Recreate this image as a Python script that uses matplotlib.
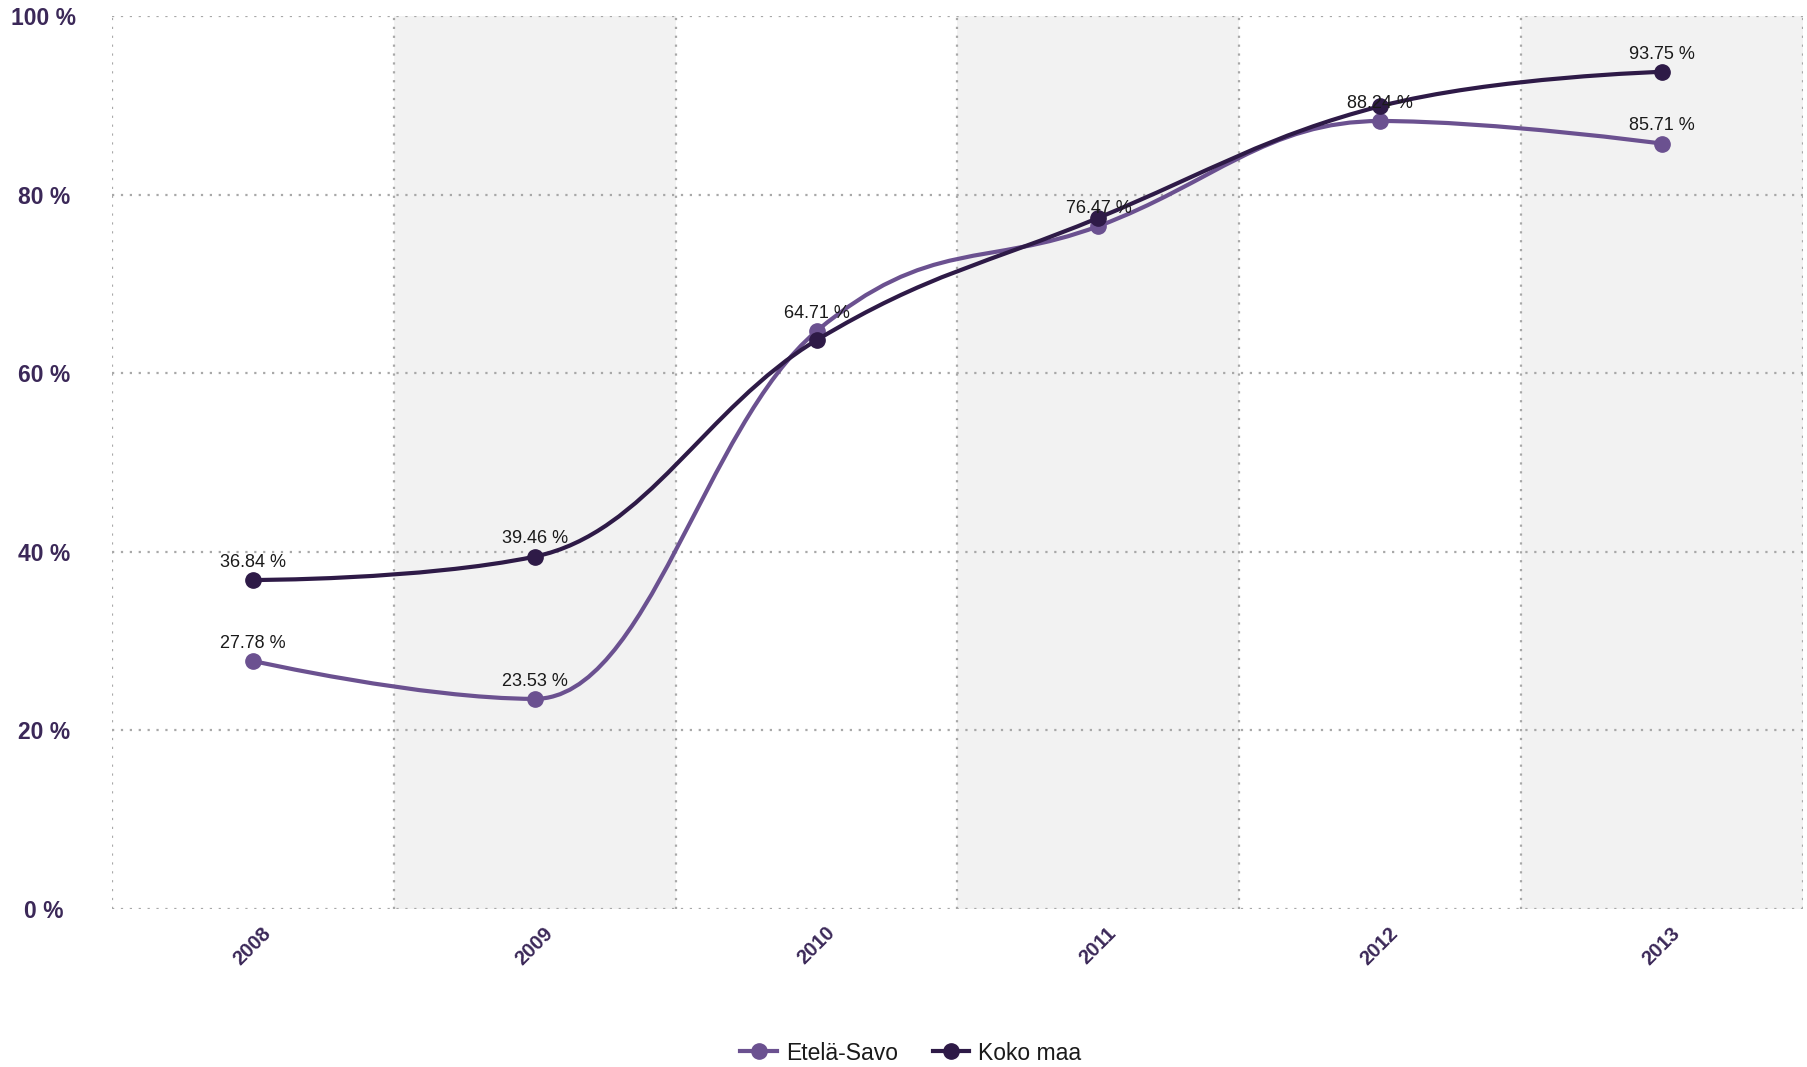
import matplotlib
matplotlib.use("Agg")
import matplotlib.pyplot as plt
from matplotlib.path import Path
from matplotlib.patches import PathPatch
from matplotlib.lines import Line2D
import matplotlib.transforms as mtransforms

plt.rcParams['font.family'] = ['Liberation Sans', 'DejaVu Sans']

years = ['2008', '2009', '2010', '2011', '2012', '2013']
etela_savo = [27.78, 23.53, 64.71, 76.47, 88.24, 85.71]
koko_maa = [36.84, 39.46, 63.7, 77.4, 89.9, 93.75]
koko_label_idx = [0, 1, 5]
es_label_idx = [0, 1, 2, 3, 4, 5]
yticks = [0, 20, 40, 60, 80, 100]
series_names = ['Etelä-Savo', 'Koko maa']

c_es = '#6b5190'
c_koko = '#2e1a47'
c_tick = '#3b2858'


def spline_path(xs, ys):
    n = len(xs)
    left = [None] * n
    right = [None] * n
    s, d = 1.5, 2.5
    for i in range(1, n - 1):
        px, py = xs[i], ys[i]
        lx, ly = xs[i - 1], ys[i - 1]
        nx, ny = xs[i + 1], ys[i + 1]
        lcx = (s * px + lx) / d
        lcy = (s * py + ly) / d
        rcx = (s * px + nx) / d
        rcy = (s * py + ny) / d
        if rcx != lcx:
            corr = ((rcy - lcy) * (rcx - px)) / (rcx - lcx) + py - rcy
            lcy += corr
            rcy += corr
        if lcy > ly and lcy > py:
            lcy = max(ly, py); rcy = 2 * py - lcy
        elif lcy < ly and lcy < py:
            lcy = min(ly, py); rcy = 2 * py - lcy
        if rcy > ny and rcy > py:
            rcy = max(ny, py); lcy = 2 * py - rcy
        elif rcy < ny and rcy < py:
            rcy = min(ny, py); lcy = 2 * py - rcy
        left[i] = (lcx, lcy)
        right[i] = (rcx, rcy)
    verts = [(xs[0], ys[0])]
    codes = [Path.MOVETO]
    for i in range(1, n):
        c1 = right[i - 1] if right[i - 1] is not None else (xs[i - 1], ys[i - 1])
        c2 = left[i] if left[i] is not None else (xs[i], ys[i])
        verts += [c1, c2, (xs[i], ys[i])]
        codes += [Path.CURVE4] * 3
    return Path(verts, codes)


fig = plt.figure(figsize=(18.08, 10.67), dpi=100)
ax = fig.add_axes([112 / 1808, 1 - 909 / 1067, (1803 - 112) / 1808, (909 - 16) / 1067])

x = list(range(len(years)))
ax.set_xlim(-0.5, len(years) - 0.5)
ax.set_ylim(0, 100)

for i in x:
    if i % 2 == 1:
        ax.axvspan(i - 0.5, i + 0.5, color='#f2f2f2', zorder=0, lw=0)

dot = (0, (1, 3))
for yv in yticks:
    ax.axhline(yv, color='#a8a8a8', lw=1.6, ls=dot, zorder=1)
for i in range(len(years) + 1):
    ax.axvline(i - 0.5, color='#a8a8a8', lw=1.6, ls=dot, zorder=1)

for s in ax.spines.values():
    s.set_visible(False)

for vals, col, z in [(etela_savo, c_es, 3), (koko_maa, c_koko, 4)]:
    p = spline_path(x, vals)
    ax.add_patch(PathPatch(p, facecolor='none', edgecolor=col, lw=3.0, zorder=z,
                           capstyle='round', joinstyle='round'))
    ax.plot(x, vals, ls='none', marker='o', ms=11, color=col, zorder=z + 0.5)

for vals, idxs in [(etela_savo, es_label_idx), (koko_maa, koko_label_idx)]:
    for i in idxs:
        ax.annotate(f"{vals[i]:.2f} %", (x[i], vals[i]), xytext=(0, 9.5),
                    textcoords='offset points', ha='center', va='baseline',
                    fontsize=13, color='#1a1a1a', zorder=6)

ax.set_yticks(yticks)
ax.set_yticklabels([f"{v} %" for v in yticks], fontsize=16.5, fontweight='bold',
                   color=c_tick, ha='center')
ax.tick_params(axis='y', length=0, pad=49)

ax.set_xticks(x)
ax.set_xticklabels(years, rotation=45, ha='right', va='center', rotation_mode='anchor',
                   fontsize=14.5, fontweight='bold', color=c_tick)
ax.tick_params(axis='x', length=0, pad=0)
offset = mtransforms.ScaledTranslation(15 / 100, -21 / 100, fig.dpi_scale_trans)
for lbl in ax.get_xticklabels():
    lbl.set_transform(lbl.get_transform() + offset)

handles = [Line2D([], [], color=c_es, lw=3, marker='o', ms=11),
           Line2D([], [], color=c_koko, lw=3, marker='o', ms=11)]
fig.legend(handles, series_names, loc='center', bbox_to_anchor=(911 / 1808, 1 - 1053 / 1067),
           ncol=2, frameon=False, fontsize=16.5, handlelength=1.6, handletextpad=0.4,
           columnspacing=1.5, labelcolor='#1a1a1a')

fig.savefig('out.png', dpi=100)
